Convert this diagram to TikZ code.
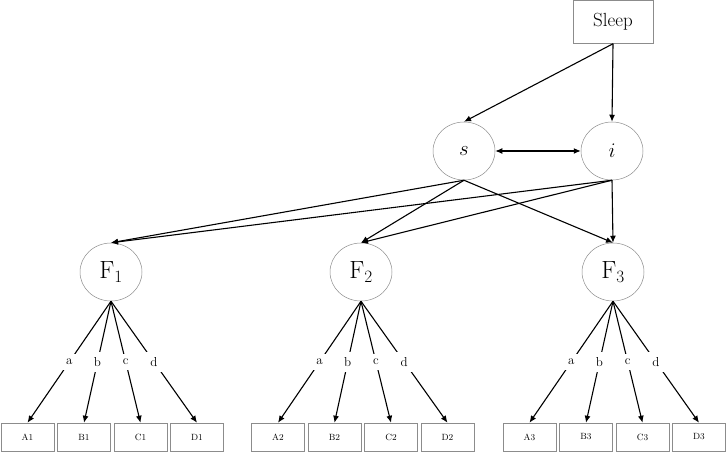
\documentclass[tikz,border=0pt]{standalone}
\usepackage{tikz}
\usetikzlibrary{positioning}
\usetikzlibrary{shapes.geometric}
\usetikzlibrary{arrows.meta}

\begin{document}
\begin{tikzpicture}
  [ x=1pt, y=1pt,
    >={Latex[length=7pt,width=6pt]},
    obs/.style={rectangle, draw=black!45, line width=0.5pt,
      minimum width=53pt, minimum height=28pt, inner sep=0pt,
      font=\fontsize{9}{10}\selectfont},
    lat/.style={ellipse, draw=black!45, line width=0.5pt,
      minimum width=62pt, minimum height=58pt, inner sep=0pt},
    ld/.style={draw=black, line width=1.1pt, ->},
    lbl/.style={fill=white, inner sep=5pt, font=\fontsize{13}{14}\selectfont}
  ]
  \useasboundingbox (0,0) rectangle (727,452);

  \node (sleep) at (613,430) [obs, minimum width=80pt, minimum height=43pt,
    font=\fontsize{19}{22}\selectfont] {Sleep};

  \node (s) at (464,301) [lat] {\fontsize{22}{25}\selectfont $s$};
  \node (i) at (612,301) [lat] {\fontsize{22}{25}\selectfont $i$};

  \node (F1) at (111,180) [lat] {\fontsize{26}{30}\selectfont $\mathrm{F}_1$};
  \node (F2) at (361,180) [lat] {\fontsize{26}{30}\selectfont $\mathrm{F}_2$};
  \node (F3) at (613,180) [lat] {\fontsize{26}{30}\selectfont $\mathrm{F}_3$};

  % indicators
  \node (A1) at (27.5,15) [obs] {A1};
  \node (B1) [right=3pt of A1, obs] {B1};
  \node (C1) [right=3pt of B1, obs] {C1};
  \node (D1) [right=3pt of C1, obs] {D1};

  \node (A2) at (278,15) [obs] {A2};
  \node (B2) [right=3pt of A2, obs] {B2};
  \node (C2) [right=3pt of B2, obs] {C2};
  \node (D2) [right=3pt of C2, obs] {D2};

  \node (A3) at (529.5,15) [obs] {A3};
  \node (B3) [right=3pt of A3, obs] {B3};
  \node (C3) [right=3pt of B3, obs] {C3};
  \node (D3) [right=3pt of C3, obs] {D3};

  \draw [ld] (sleep.south) -- (s.north);
  \draw [ld] (sleep.south) -- (i.north);
  \draw [ld, <->] (s.east) -- (i.west);

  \draw [ld] (s.south) -- (F1.north);
  \draw [ld] (i.south) -- (F1.north);
  \draw [ld] (s.south) -- (F2.north);
  \draw [ld] (i.south) -- (F2.north);
  \draw [ld] (s.south) -- (F3.north);
  \draw [ld] (i.south) -- (F3.north);

  \draw [ld] (F1.south) -- node[lbl] {a} (A1.north);
  \draw [ld] (F1.south) -- node[lbl] {b} (B1.north);
  \draw [ld] (F1.south) -- node[lbl] {c} (C1.north);
  \draw [ld] (F1.south) -- node[lbl] {d} (D1.north);

  \draw [ld] (F2.south) -- node[lbl] {a} (A2.north);
  \draw [ld] (F2.south) -- node[lbl] {b} (B2.north);
  \draw [ld] (F2.south) -- node[lbl] {c} (C2.north);
  \draw [ld] (F2.south) -- node[lbl] {d} (D2.north);

  \draw [ld] (F3.south) -- node[lbl] {a} (A3.north);
  \draw [ld] (F3.south) -- node[lbl] {b} (B3.north);
  \draw [ld] (F3.south) -- node[lbl] {c} (C3.north);
  \draw [ld] (F3.south) -- node[lbl] {d} (D3.north);
\end{tikzpicture}
\end{document}
